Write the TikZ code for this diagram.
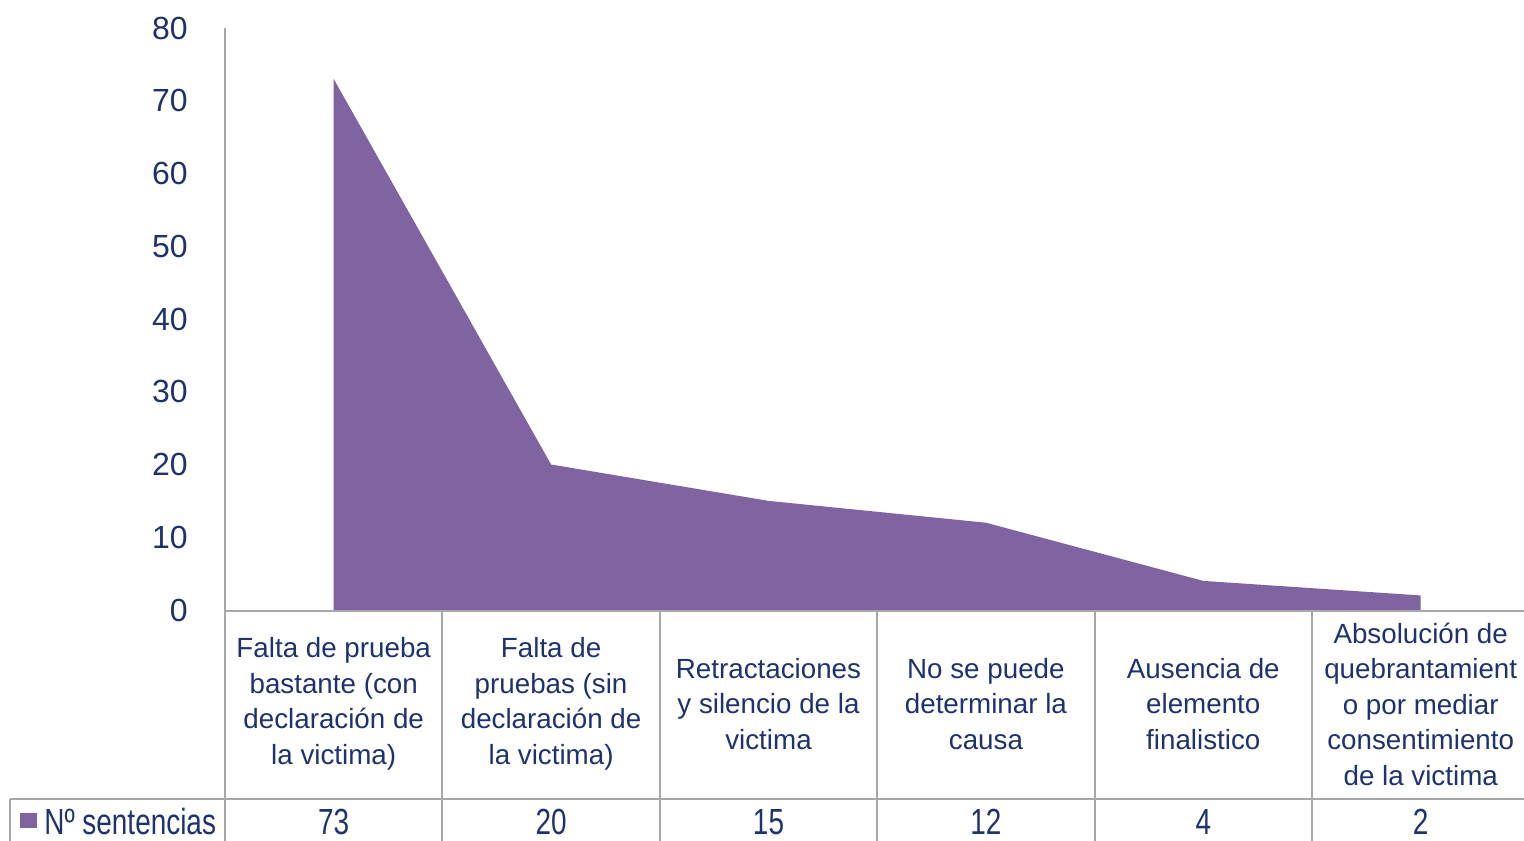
\documentclass[tikz,border=0pt]{standalone}
\usepackage{fontspec}
\setmainfont{Liberation Sans}
\usetikzlibrary{positioning}
\definecolor{chartPurple}{RGB}{128,100,162}
\definecolor{labelNavy}{RGB}{30,50,110}
\definecolor{lineGray}{RGB}{168,168,168}
\newcommand{\stretchY}[1]{\scalebox{1}[1.3]{#1}}

\begin{document}
\begin{tikzpicture}[x=0.02cm, y=-0.02cm,
    axisLabel/.style={anchor=east, inner sep=0pt, text=labelNavy, font=\fontsize{18.2}{20}\selectfont},
    catLabel/.style={align=center, inner sep=0pt, text=labelNavy, font=\fontsize{15.8}{20.2}\selectfont},
    valLabel/.style={anchor=base, inner sep=0pt, text=labelNavy, font=\fontsize{15.9}{18}\selectfont},
    gridLine/.style={lineGray, line width=1.1pt}]
    \useasboundingbox (0,0) rectangle (1524,841);

    % 【座標】各データ点を先に定義
    \foreach \i/\v in {1/73, 2/20, 3/15, 4/12, 5/4, 6/2}
        \coordinate (p\i) at ({225+(\i-0.5)*217.4}, {610-\v*7.275});
    \coordinate (base1) at (333.7, 610);
    \coordinate (base6) at (1420.7, 610);

    % 面グラフ
    \fill[chartPurple] (base1) -- (p1) -- (p2) -- (p3) -- (p4) -- (p5) -- (p6) -- (base6) -- cycle;

    % 縦軸と目盛りラベル
    \draw[gridLine] (225,28) -- (225,841);
    \foreach \v in {0,10,...,80}
        \node[axisLabel] (tick\v) at (188, {610-\v*7.275}) {\v};

    % 表の罫線
    \draw[gridLine] (225,611) -- (1524,611);
    \draw[gridLine] (10,799) -- (1524,799);
    \draw[gridLine] (10,799) -- (10,841);
    \foreach \i in {1,...,5}
        \draw[gridLine] ({225+\i*217.4},611) -- ({225+\i*217.4},841);

    % 項目名と件数
    \foreach \i/\v/\txt in {
        1/73/{Falta de prueba\\bastante (con\\declaración de\\la victima)},
        2/20/{Falta de\\pruebas (sin\\declaración de\\la victima)},
        3/15/{Retractaciones\\y silencio de la\\victima},
        4/12/{No se puede\\determinar la\\causa},
        5/4/{Ausencia de\\elemento\\finalistico},
        6/2/{Absolución de\\quebrantamient\\o por mediar\\consentimiento\\de la victima}} {
        \node[catLabel] (cat\i) at ({225+(\i-0.5)*217.4}, 704) {\txt};
        \node[valLabel] (val\i) at ({225+(\i-0.5)*217.4}, 834) {\stretchY{\v}};
    }

    % 凡例
    \node[fill=chartPurple, inner sep=0pt, minimum width=0.34cm, minimum height=0.3cm] (legKey) at (28.5,820.5) {};
    \node[valLabel, anchor=base west] (legText) at (44,834) {\stretchY{Nº sentencias}};
\end{tikzpicture}
\end{document}
